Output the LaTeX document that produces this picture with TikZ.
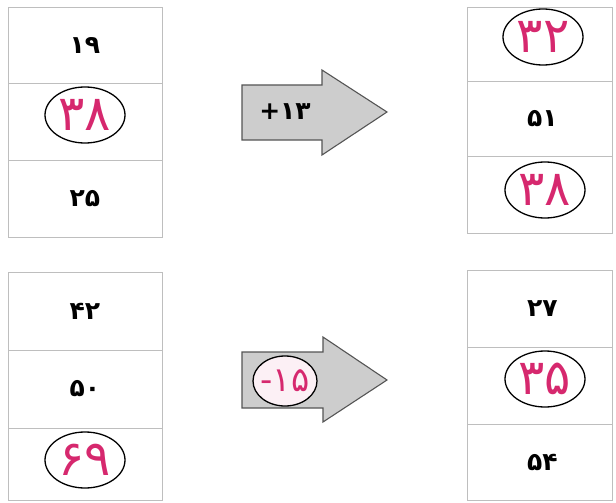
\documentclass[tikz,border=0pt]{standalone}
\usepackage{fontspec}
\newfontfamily\pfont[Script=Arabic]{DejaVu Sans}
\usetikzlibrary{shapes.geometric}
\definecolor{cellline}{RGB}{190,190,190}
\definecolor{pen}{RGB}{214,40,110}
\definecolor{arrowfill}{RGB}{205,205,205}
\definecolor{arrowline}{RGB}{85,85,85}
\begin{document}
\begin{tikzpicture}[x=1pt,y=-1pt,
  cell/.style={draw=cellline, line width=0.7pt, inner sep=0pt, font=\pfont\bfseries\fontsize{25}{28}\selectfont},
  ring/.style={ellipse, draw=black, line width=1.3pt, inner sep=0pt, minimum width=80pt, minimum height=56pt, text=pen, font=\pfont\fontsize{49}{52}\selectfont},
  arrowshape/.style={draw=arrowline, line width=1.1pt, fill=arrowfill, line join=miter},
  arrowlabel/.style={font=\pfont\bfseries\fontsize{25}{28}\selectfont}]
\useasboundingbox (0,0) rectangle (616,503);

% top-left column
\node[cell, minimum width=154pt, minimum height=76pt] (tl1) at (85,45) {۱۹};
\node[cell, minimum width=154pt, minimum height=77pt] (tl2) at (85,121.5) {};
\node[cell, minimum width=154pt, minimum height=77pt] (tl3) at (85,198.5) {۲۵};
\node[ring] (r1) at (85,115) {۳۸};

% top-right column
\node[cell, minimum width=145pt, minimum height=74pt] (tr1) at (539.5,44) {};
\node[cell, minimum width=145pt, minimum height=75pt] (tr2) at (539.5,118.5) {\hspace*{6pt}۵۱};
\node[cell, minimum width=145pt, minimum height=77pt] (tr3) at (539.5,194.5) {};
\node[ring] (r2) at (543,37) {۳۲};
\node[ring] (r3) at (545,190) {۳۸};

% bottom-left column
\node[cell, minimum width=154pt, minimum height=78pt] (bl1) at (85,311) {۴۲};
\node[cell, minimum width=154pt, minimum height=78pt] (bl2) at (85,389) {۵۰};
\node[cell, minimum width=154pt, minimum height=72pt] (bl3) at (85,464) {};
\node[ring] (r4) at (85,460) {۶۹};

% bottom-right column
\node[cell, minimum width=145pt, minimum height=77pt] (br1) at (539.5,308.5) {\hspace*{6pt}۲۷};
\node[cell, minimum width=145pt, minimum height=77pt] (br2) at (539.5,385.5) {};
\node[cell, minimum width=145pt, minimum height=76pt] (br3) at (539.5,462) {\hspace*{6pt}۵۴};
\node[ring] (r5) at (545,379) {۳۵};

% top arrow
\draw[arrowshape] (242,85) -- (322,85) -- (322,70) -- (387,112) -- (322,155) -- (322,140) -- (242,140) -- cycle;
\node[arrowlabel] (a1) at (285,112) {\hbox{+}\hbox{۱۳}};

% bottom arrow
\draw[arrowshape] (242,352) -- (323,352) -- (323,337) -- (387,380) -- (323,422) -- (323,408) -- (242,408) -- cycle;
\node[ring, minimum width=64pt, minimum height=50pt, fill=white!93!pen] (a2) at (285,381) {};
\node[text=pen, inner sep=0pt, font=\pfont\fontsize{34}{38}\selectfont] (a2t) at (a2.center) {\hbox{-}\hbox{۱۵}};
\end{tikzpicture}
\end{document}
